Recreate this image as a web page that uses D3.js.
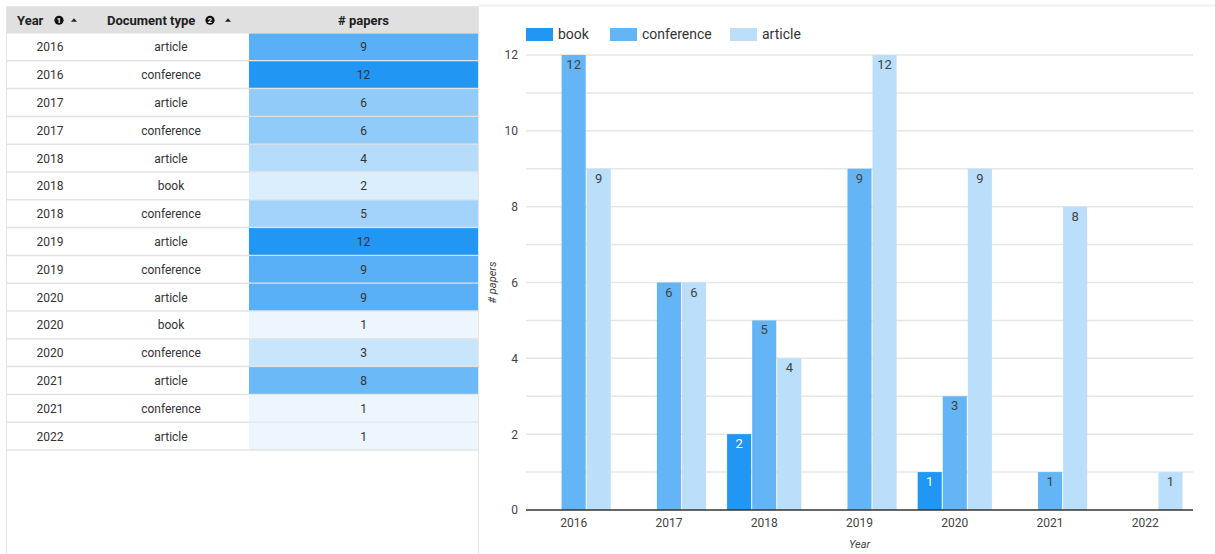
<!DOCTYPE html>
<html>
<head>
<meta charset="utf-8">
<script src="https://cdn.jsdelivr.net/npm/d3@7"></script>
<style>
  html, body { margin: 0; padding: 0; background: #fff; }
  svg { display: block; font-family: Roboto, "Noto Sans", sans-serif; }
</style>
</head>
<body>
<svg id="view" width="1215" height="554"></svg>
<script>
// Publication counts per year and document type
const years = ["2016", "2017", "2018", "2019", "2020", "2021", "2022"];
const docTypes = ["book", "conference", "article"];
const bookCounts = [0, 0, 2, 0, 1, 0, 0];
const conferenceCounts = [12, 6, 5, 9, 3, 1, 0];
const articleCounts = [9, 6, 4, 12, 9, 8, 1];
const yTicks = [0, 2, 4, 6, 8, 10, 12];

const seriesByType = { book: bookCounts, conference: conferenceCounts, article: articleCounts };
const typeColors = { book: "#2196f3", conference: "#64b5f6", article: "#bbdefb" };
const labelColors = { book: "#ffffff", conference: "#424242", article: "#424242" };

const svg = d3.select("#view");

// ---------- Table (left panel) ----------
// rows ordered by year, then document type alphabetically, only non-zero counts
const tableRows = [];
years.forEach((yr, i) => {
  docTypes.slice().sort().forEach(t => {
    const v = seriesByType[t][i];
    if (v > 0) tableRows.push({ year: yr, type: t, count: v });
  });
});

const tbl = { left: 6, right: 478, top: 6, headerH: 26.5, rowH: 27.8, valX: 249 };
const heat = d3.scaleLinear()
  .domain([0, d3.max(tableRows, d => d.count)])
  .range(["#ffffff", "#2196f3"]);

const tg = svg.append("g");
// outer frame
tg.append("rect")
  .attr("x", tbl.left + 0.5).attr("y", tbl.top + 0.5)
  .attr("width", tbl.right - tbl.left).attr("height", 560)
  .attr("fill", "#fff").attr("stroke", "#e6e6e6");
// header
tg.append("rect")
  .attr("x", tbl.left + 1).attr("y", tbl.top + 1)
  .attr("width", tbl.right - tbl.left - 1).attr("height", tbl.headerH)
  .attr("fill", "#e0e0e0");

const headY = tbl.top + 1 + tbl.headerH / 2 + 4.5;
const headers = [
  { text: "Year", x: 17, badge: "1", badgeX: 59, arrowX: 74 },
  { text: "Document type", x: 107, badge: "2", badgeX: 210, arrowX: 228 }
];
headers.forEach(h => {
  tg.append("text").attr("x", h.x).attr("y", headY)
    .attr("font-size", 13).attr("font-weight", "bold").attr("fill", "#212121").text(h.text);
  tg.append("circle").attr("cx", h.badgeX).attr("cy", headY - 4.5).attr("r", 4.6).attr("fill", "#111");
  tg.append("text").attr("x", h.badgeX).attr("y", headY - 1.6)
    .attr("text-anchor", "middle").attr("font-size", 7.5).attr("font-weight", "bold")
    .attr("fill", "#fff").text(h.badge);
  tg.append("path")
    .attr("d", `M${h.arrowX - 3},${headY - 3} L${h.arrowX + 3},${headY - 3} L${h.arrowX},${headY - 6.5}Z`)
    .attr("fill", "#222");
});
tg.append("text").attr("x", (tbl.valX + tbl.right) / 2).attr("y", headY)
  .attr("text-anchor", "middle").attr("font-size", 13).attr("font-weight", "bold")
  .attr("fill", "#212121").text("# papers");

const bodyTop = tbl.top + 1 + tbl.headerH;
const rowY = d3.scaleLinear().domain([0, 1]).range([bodyTop, bodyTop + tbl.rowH]);
const rows = tg.selectAll("g.row").data(tableRows).join("g").attr("class", "row")
  .attr("transform", (d, i) => `translate(0,${rowY(i)})`);
rows.append("rect")
  .attr("x", tbl.valX).attr("y", 0)
  .attr("width", tbl.right - tbl.valX).attr("height", tbl.rowH)
  .attr("fill", d => heat(d.count));
rows.append("line")
  .attr("x1", tbl.left + 1).attr("x2", tbl.right)
  .attr("y1", tbl.rowH - 0.5).attr("y2", tbl.rowH - 0.5)
  .attr("stroke", "#e3e3e3").attr("stroke-width", 1.5);
rows.append("text").attr("x", 50).attr("y", tbl.rowH / 2 + 4)
  .attr("text-anchor", "middle").attr("font-size", 12).attr("fill", "#333").text(d => d.year);
rows.append("text").attr("x", 171).attr("y", tbl.rowH / 2 + 4)
  .attr("text-anchor", "middle").attr("font-size", 12).attr("fill", "#333").text(d => d.type);
rows.append("text").attr("x", (tbl.valX + tbl.right) / 2).attr("y", tbl.rowH / 2 + 4)
  .attr("text-anchor", "middle").attr("font-size", 12).attr("fill", "#333").text(d => d.count);

// ---------- Grouped bar chart (right panel) ----------
svg.append("line").attr("x1", 478).attr("x2", 1215).attr("y1", 5.5).attr("y2", 5.5)
  .attr("stroke", "#f2f2f2").attr("stroke-width", 2);

const plot = { left: 526, right: 1193, top: 55, bottom: 510 };
const x0 = d3.scaleBand().domain(years).range([plot.left, plot.right])
  .paddingInner(0.2).paddingOuter(0.1);
const x1 = d3.scaleBand().domain(docTypes).range([0, x0.bandwidth()]).padding(0.04);
const y = d3.scaleLinear().domain([0, 12]).range([plot.bottom, plot.top]);

const cg = svg.append("g");
// gridlines at every unit
cg.selectAll("line.grid").data(d3.range(1, 13)).join("line").attr("class", "grid")
  .attr("x1", plot.left).attr("x2", plot.right)
  .attr("y1", d => y(d)).attr("y2", d => y(d))
  .attr("stroke", "#e6e6e6").attr("stroke-width", 1.5);

// y axis labels
const yAxis = d3.axisLeft(y).tickValues(yTicks).tickSize(0).tickPadding(8);
cg.append("g").attr("transform", `translate(${plot.left},0)`).call(yAxis)
  .call(g => g.select(".domain").remove())
  .call(g => g.selectAll("text").attr("font-size", 12).attr("fill", "#444")
    .attr("font-family", "Roboto, sans-serif"));

// bars
const barData = [];
years.forEach((yr, i) => docTypes.forEach(t => {
  const v = seriesByType[t][i];
  if (v > 0) barData.push({ year: yr, type: t, value: v });
}));
const bars = cg.selectAll("g.bar").data(barData).join("g").attr("class", "bar")
  .attr("transform", d => `translate(${x0(d.year) + x1(d.type)},0)`);
bars.append("rect")
  .attr("x", 0).attr("y", d => y(d.value))
  .attr("width", x1.bandwidth()).attr("height", d => y(0) - y(d.value))
  .attr("fill", d => typeColors[d.type]);
bars.append("text")
  .attr("x", x1.bandwidth() / 2).attr("y", d => y(d.value) + 14)
  .attr("text-anchor", "middle").attr("font-size", 13)
  .attr("fill", d => labelColors[d.type]).text(d => d.value);

// baseline
cg.append("line").attr("x1", plot.left).attr("x2", plot.right)
  .attr("y1", y(0)).attr("y2", y(0)).attr("stroke", "#333").attr("stroke-width", 1.5);

// x axis labels
const xAxis = d3.axisBottom(x0).tickSize(0).tickPadding(8);
cg.append("g").attr("transform", `translate(0,${plot.bottom})`).call(xAxis)
  .call(g => g.select(".domain").remove())
  .call(g => g.selectAll("text").attr("font-size", 12).attr("fill", "#444")
    .attr("font-family", "Roboto, sans-serif"));

// axis titles
cg.append("text").attr("x", (plot.left + plot.right) / 2).attr("y", 548)
  .attr("text-anchor", "middle").attr("font-size", 11).attr("font-style", "italic")
  .attr("fill", "#444").text("Year");
cg.append("text").attr("transform", `translate(496,${(plot.top + plot.bottom) / 2}) rotate(-90)`)
  .attr("text-anchor", "middle").attr("font-size", 11).attr("font-style", "italic")
  .attr("fill", "#444").text("# papers");

// legend
const legendX = [526, 610, 730];
const lg = cg.selectAll("g.legend").data(docTypes).join("g").attr("class", "legend")
  .attr("transform", (d, i) => `translate(${legendX[i]},28)`);
lg.append("rect").attr("width", 27).attr("height", 13).attr("fill", d => typeColors[d]);
lg.append("text").attr("x", 32).attr("y", 11).attr("font-size", 14)
  .attr("fill", "#333").text(d => d);
</script>
</body>
</html>
